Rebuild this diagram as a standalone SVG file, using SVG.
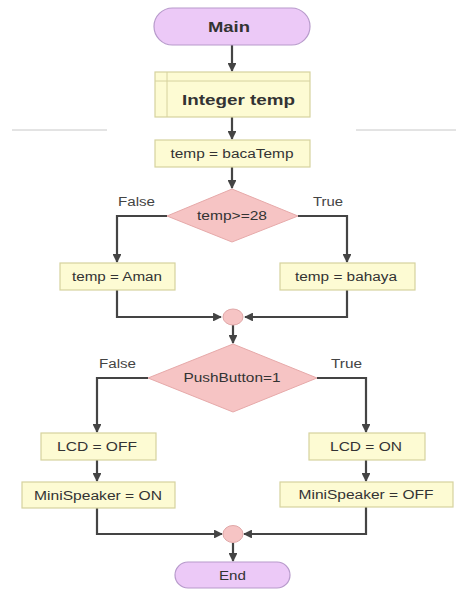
<svg xmlns="http://www.w3.org/2000/svg" width="456" height="589" viewBox="0 0 456 589">
<defs>
<marker id="ah" viewBox="0 0 10 10" refX="9" refY="5" markerWidth="4" markerHeight="4" orient="auto-start-reverse" markerUnits="strokeWidth">
<path d="M0,0 L10,5 L0,10 z" fill="#444"/>
</marker>
<style>
.term{fill:#ecc9f7;stroke:#b79acb;stroke-width:1.2}
.box{fill:#fdfbd3;stroke:#d6d29e;stroke-width:1.2}
.dia{fill:#f6c4c4;stroke:#e6a9a9;stroke-width:1}
.cir{fill:#f6c4c4;stroke:#e0a8a8;stroke-width:1}
.conn path{fill:none;stroke:#444;stroke-width:2.2}
.arr{marker-end:url(#ah)}
text{font-family:"Liberation Sans",Arial,sans-serif;fill:#333;text-anchor:middle}
.t{font-size:12px}
.big{font-size:15px;font-weight:bold}
.lbl{font-size:12px;fill:#444}
.sep{stroke:#c8c8c8;stroke-width:1}
</style>
</defs>
<rect width="456" height="589" fill="#fff"/>
<line class="sep" x1="12" y1="130" x2="107" y2="130"/>
<line class="sep" x1="356" y1="130" x2="456" y2="130"/>

<g id="conn" class="conn">
<path class="arr" d="M232,45 V71"/>
<path class="arr" d="M232,117 V139"/>
<path class="arr" d="M232,167 V188"/>
<path class="arr" d="M167,216 H117 V262"/>
<path class="arr" d="M298,216 H347 V262"/>
<path class="arr" d="M117,290 V317 H221"/>
<path class="arr" d="M347,290 V317 H245"/>
<path class="arr" d="M233,325 V343"/>
<path class="arr" d="M148,378 H97 V432"/>
<path class="arr" d="M317,378 H366 V432"/>
<path class="arr" d="M97,460 V481"/>
<path class="arr" d="M366,460 V481"/>
<path class="arr" d="M97,508 V534 H222"/>
<path class="arr" d="M366,507 V534 H244"/>
<path class="arr" d="M233,543 V561"/>
</g>

<g id="main">
<rect class="term" x="154" y="8" width="156" height="37" rx="18.5"/>
<text class="big" x="229" y="32" textLength="42" lengthAdjust="spacingAndGlyphs">Main</text>
</g>
<g id="integer-temp">
<rect class="box" x="155" y="72" width="155" height="45"/>
<line x1="155" y1="81" x2="310" y2="81" stroke="#d6d29e" stroke-width="1"/>
<line x1="167" y1="72" x2="167" y2="117" stroke="#d6d29e" stroke-width="1"/>
<text class="big" x="238.5" y="105" textLength="113" lengthAdjust="spacingAndGlyphs">Integer temp</text>
</g>
<g id="baca">
<rect class="box" x="155" y="140" width="155" height="27"/>
<text class="t" x="232" y="158" textLength="123" lengthAdjust="spacingAndGlyphs">temp = bacaTemp</text>
</g>
<g id="dec1">
<polygon class="dia" points="232,189 298,216 232,242 167,216"/>
<text class="t" x="232" y="220" textLength="70" lengthAdjust="spacingAndGlyphs">temp&gt;=28</text>
</g>
<text class="lbl" x="136.5" y="206" textLength="37" lengthAdjust="spacingAndGlyphs">False</text>
<text class="lbl" x="328" y="206" textLength="30" lengthAdjust="spacingAndGlyphs">True</text>
<g id="aman">
<rect class="box" x="60" y="263" width="115" height="27"/>
<text class="t" x="117" y="281" textLength="90" lengthAdjust="spacingAndGlyphs">temp = Aman</text>
</g>
<g id="bahaya">
<rect class="box" x="280" y="263" width="135" height="27"/>
<text class="t" x="346" y="281" textLength="102" lengthAdjust="spacingAndGlyphs">temp = bahaya</text>
</g>
<g id="merge1">
<ellipse class="cir" cx="233" cy="317" rx="10" ry="8"/>
</g>
<g id="dec2">
<polygon class="dia" points="233,344 317,378 233,412 148,378"/>
<text class="t" x="232" y="382" textLength="97" lengthAdjust="spacingAndGlyphs">PushButton=1</text>
</g>
<text class="lbl" x="117.5" y="368" textLength="37" lengthAdjust="spacingAndGlyphs">False</text>
<text class="lbl" x="346.5" y="368" textLength="31" lengthAdjust="spacingAndGlyphs">True</text>
<g id="lcd-off">
<rect class="box" x="41" y="433" width="115" height="27"/>
<text class="t" x="97" y="451" textLength="80" lengthAdjust="spacingAndGlyphs">LCD = OFF</text>
</g>
<g id="lcd-on">
<rect class="box" x="309" y="433" width="116" height="27"/>
<text class="t" x="366" y="451" textLength="72" lengthAdjust="spacingAndGlyphs">LCD = ON</text>
</g>
<g id="speaker-on">
<rect class="box" x="22" y="482" width="153" height="26"/>
<text class="t" x="98" y="499.5" textLength="128" lengthAdjust="spacingAndGlyphs">MiniSpeaker = ON</text>
</g>
<g id="speaker-off">
<rect class="box" x="280" y="482" width="173" height="25"/>
<text class="t" x="366" y="499" textLength="135" lengthAdjust="spacingAndGlyphs">MiniSpeaker = OFF</text>
</g>
<g id="merge2">
<ellipse class="cir" cx="233" cy="534" rx="10" ry="8.5"/>
</g>
<g id="end">
<rect class="term" x="175" y="562" width="115" height="26" rx="13"/>
<text class="t" x="232.5" y="579.5" textLength="27" lengthAdjust="spacingAndGlyphs">End</text>
</g>
</svg>
